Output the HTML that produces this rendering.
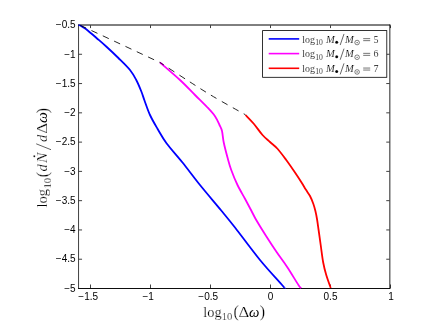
<!DOCTYPE html>
<html><head><meta charset="utf-8"><style>html,body{margin:0;padding:0;background:#fff}svg{display:block;will-change:transform}</style></head><body>
<svg width="432" height="324" viewBox="0 0 432 324">
<rect width="432" height="324" fill="#fff"/>
<path d="M78.55,24.5 V288.95" stroke="#000" stroke-width="0.75"/>
<path d="M389.85,24.5 V288.95" stroke="#000" stroke-width="0.87"/>
<path d="M78.17999999999999,25.0 H390.28000000000003" stroke="#000" stroke-width="1"/>
<path d="M78.17999999999999,288.5 H390.28000000000003" stroke="#000" stroke-width="0.95"/>
<path d="M90.5,288.1 v-3.6 M90.5,25.4 v2.7" stroke="#000" stroke-width="0.75"/>
<path d="M150.5,288.1 v-3.6 M150.5,25.4 v2.7" stroke="#000" stroke-width="0.75"/>
<path d="M210.5,288.1 v-3.6 M210.5,25.4 v2.7" stroke="#000" stroke-width="0.75"/>
<path d="M270.5,288.1 v-3.6 M270.5,25.4 v2.7" stroke="#000" stroke-width="0.75"/>
<path d="M330.5,288.1 v-3.6 M330.5,25.4 v2.7" stroke="#000" stroke-width="0.75"/>
<path d="M390.5,288.1 v-3.6 M390.5,25.4 v2.7" stroke="#000" stroke-width="0.75"/>
<path d="M78.85,54.28 h3.2 M389.45000000000005,54.28 h-3.2" stroke="#000" stroke-width="0.75"/>
<path d="M78.85,83.56 h3.2 M389.45000000000005,83.56 h-3.2" stroke="#000" stroke-width="0.75"/>
<path d="M78.85,112.83 h3.2 M389.45000000000005,112.83 h-3.2" stroke="#000" stroke-width="0.75"/>
<path d="M78.85,142.11 h3.2 M389.45000000000005,142.11 h-3.2" stroke="#000" stroke-width="0.75"/>
<path d="M78.85,171.39 h3.2 M389.45000000000005,171.39 h-3.2" stroke="#000" stroke-width="0.75"/>
<path d="M78.85,200.67 h3.2 M389.45000000000005,200.67 h-3.2" stroke="#000" stroke-width="0.75"/>
<path d="M78.85,229.94 h3.2 M389.45000000000005,229.94 h-3.2" stroke="#000" stroke-width="0.75"/>
<path d="M78.85,259.22 h3.2 M389.45000000000005,259.22 h-3.2" stroke="#000" stroke-width="0.75"/>
<clipPath id="cp"><rect x="78.14999999999999" y="24.6" width="312.1" height="264.3"/></clipPath>
<g clip-path="url(#cp)">
<path d="M78.50,24.50 C79.25,24.95 81.46,26.20 83.00,27.20 C84.54,28.20 85.50,28.70 87.75,30.50 C90.00,32.30 93.38,35.29 96.50,38.00 C99.62,40.71 102.85,43.42 106.50,46.75 C110.15,50.08 114.48,54.12 118.40,58.00 C122.32,61.88 127.03,66.33 130.00,70.00 C132.97,73.67 134.38,76.46 136.25,80.00 C138.12,83.54 139.88,87.83 141.25,91.25 C142.62,94.67 143.04,96.54 144.50,100.50 C145.96,104.46 147.83,110.29 150.00,115.00 C152.17,119.71 154.75,124.05 157.50,128.75 C160.25,133.45 162.33,137.57 166.50,143.20 C170.67,148.82 176.92,155.53 182.50,162.50 C188.08,169.47 193.54,177.00 200.00,185.00 C206.46,193.00 215.42,203.42 221.25,210.50 C227.08,217.58 228.54,219.25 235.00,227.50 C241.46,235.75 252.08,250.33 260.00,260.00 C267.92,269.67 278.46,280.83 282.50,285.50 C286.54,290.17 283.96,287.58 284.25,288.00" stroke="#0000ff" stroke-width="1.8" fill="none" stroke-linejoin="round"/>
<path d="M160.00,62.50 C163.33,65.42 174.17,74.58 180.00,80.00 C185.83,85.42 190.42,90.42 195.00,95.00 C199.58,99.58 204.17,103.96 207.50,107.50 C210.83,111.04 213.00,113.33 215.00,116.25 C217.00,119.17 218.33,122.54 219.50,125.00 C220.67,127.46 221.29,128.08 222.00,131.00 C222.71,133.92 222.83,138.08 223.75,142.50 C224.67,146.92 226.25,152.92 227.50,157.50 C228.75,162.08 229.58,165.42 231.25,170.00 C232.92,174.58 235.21,180.21 237.50,185.00 C239.79,189.79 242.71,194.50 245.00,198.75 C247.29,203.00 249.38,206.96 251.25,210.50 C253.12,214.04 253.75,215.71 256.25,220.00 C258.75,224.29 262.86,230.92 266.25,236.25 C269.64,241.58 273.06,246.79 276.60,252.00 C280.14,257.21 283.81,261.92 287.50,267.50 C291.19,273.08 296.46,282.08 298.75,285.50 C301.04,288.92 300.83,287.58 301.25,288.00" stroke="#ff00ff" stroke-width="1.8" fill="none" stroke-linejoin="round"/>
<path d="M245.50,115.00 C246.88,116.46 250.92,120.42 253.75,123.75 C256.58,127.08 259.79,131.96 262.50,135.00 C265.21,138.04 267.50,139.71 270.00,142.00 C272.50,144.29 274.79,145.75 277.50,148.75 C280.21,151.75 283.33,156.04 286.25,160.00 C289.17,163.96 292.43,168.72 295.00,172.50 C297.57,176.28 299.90,179.85 301.70,182.70 C303.50,185.55 304.42,187.38 305.80,189.60 C307.18,191.82 308.75,193.65 310.00,196.00 C311.25,198.35 312.40,201.20 313.30,203.70 C314.20,206.20 314.78,208.45 315.40,211.00 C316.02,213.55 316.47,215.83 317.00,219.00 C317.53,222.17 317.98,225.67 318.60,230.00 C319.22,234.33 319.93,239.58 320.70,245.00 C321.47,250.42 322.27,257.50 323.20,262.50 C324.12,267.50 324.99,270.75 326.25,275.00 C327.51,279.25 330.00,285.83 330.75,288.00" stroke="#ff0000" stroke-width="1.8" fill="none" stroke-linejoin="round"/>
<path d="M78.5,24.5 L160,62.5" stroke="#000" stroke-width="0.85" stroke-dasharray="6.6,5.9" stroke-dashoffset="10.7" fill="none"/>
<path d="M160.00,62.50 C165.00,65.75 181.08,76.30 190.00,82.00 C198.92,87.70 204.25,91.23 213.50,96.70 C222.75,102.17 240.17,111.78 245.50,114.80" stroke="#000" stroke-width="0.85" stroke-dasharray="6.6,5.9" stroke-dashoffset="1.9" fill="none"/>
</g>
<g font-family="Liberation Sans, sans-serif" font-size="10" fill="#000">
<text x="88.2" y="300.2" text-anchor="middle">−1.5</text>
<text x="148.2" y="300.2" text-anchor="middle">−1</text>
<text x="208.2" y="300.2" text-anchor="middle">−0.5</text>
<text x="270.5" y="300.2" text-anchor="middle">0</text>
<text x="330.5" y="300.2" text-anchor="middle">0.5</text>
<text x="391.0" y="300.2" text-anchor="middle">1</text>
<text x="75.6" y="28.25" text-anchor="end">−0.5</text>
<text x="75.6" y="57.53" text-anchor="end">−1</text>
<text x="75.6" y="86.81" text-anchor="end">−1.5</text>
<text x="75.6" y="116.08" text-anchor="end">−2</text>
<text x="75.6" y="145.36" text-anchor="end">−2.5</text>
<text x="75.6" y="174.64" text-anchor="end">−3</text>
<text x="75.6" y="203.92" text-anchor="end">−3.5</text>
<text x="75.6" y="233.19" text-anchor="end">−4</text>
<text x="75.6" y="262.47" text-anchor="end">−4.5</text>
<text x="75.6" y="291.75" text-anchor="end">−5</text>
</g>
<rect x="262.6" y="30.6" width="124.2" height="46.7" fill="#fff" stroke="#000" stroke-width="0.8"/>
<path d="M268.7,38.90 H299.2" stroke="#0000ff" stroke-width="1.6"/>
<g font-family="Liberation Serif, serif" font-size="10" fill="#000" stroke="#fff" stroke-width="0.14">
<text x="302.3" y="42.55" font-size="10.8" textLength="12.7" lengthAdjust="spacingAndGlyphs">log</text>
<text x="315.3" y="45.05" font-size="7.6">10</text>
<text x="325.9" y="42.55" font-style="italic" font-size="11.2" textLength="8.8" lengthAdjust="spacingAndGlyphs">M</text>
<circle cx="336.7" cy="42.15" r="1.5"/>
<path d="M340.2,45.05 L344,33.95" stroke="#000" stroke-width="0.6"/>
<text x="345.1" y="42.55" font-style="italic" font-size="11.2" textLength="8.8" lengthAdjust="spacingAndGlyphs">M</text>
<circle cx="357.1" cy="42.55" r="2.3" fill="none" stroke="#000" stroke-width="0.5"/><circle cx="357.1" cy="42.55" r="0.6"/>
<path d="M363.2,38.65 h7 M363.2,40.65 h7" stroke="#000" stroke-width="0.55"/>
<text x="373.6" y="42.55">5</text>
</g>
<path d="M268.7,53.60 H299.2" stroke="#ff00ff" stroke-width="1.6"/>
<g font-family="Liberation Serif, serif" font-size="10" fill="#000" stroke="#fff" stroke-width="0.14">
<text x="302.3" y="57.25" font-size="10.8" textLength="12.7" lengthAdjust="spacingAndGlyphs">log</text>
<text x="315.3" y="59.75" font-size="7.6">10</text>
<text x="325.9" y="57.25" font-style="italic" font-size="11.2" textLength="8.8" lengthAdjust="spacingAndGlyphs">M</text>
<circle cx="336.7" cy="56.85" r="1.5"/>
<path d="M340.2,59.75 L344,48.65" stroke="#000" stroke-width="0.6"/>
<text x="345.1" y="57.25" font-style="italic" font-size="11.2" textLength="8.8" lengthAdjust="spacingAndGlyphs">M</text>
<circle cx="357.1" cy="57.25" r="2.3" fill="none" stroke="#000" stroke-width="0.5"/><circle cx="357.1" cy="57.25" r="0.6"/>
<path d="M363.2,53.35 h7 M363.2,55.35 h7" stroke="#000" stroke-width="0.55"/>
<text x="373.6" y="57.25">6</text>
</g>
<path d="M268.7,68.30 H299.2" stroke="#ff0000" stroke-width="1.6"/>
<g font-family="Liberation Serif, serif" font-size="10" fill="#000" stroke="#fff" stroke-width="0.14">
<text x="302.3" y="71.95" font-size="10.8" textLength="12.7" lengthAdjust="spacingAndGlyphs">log</text>
<text x="315.3" y="74.45" font-size="7.6">10</text>
<text x="325.9" y="71.95" font-style="italic" font-size="11.2" textLength="8.8" lengthAdjust="spacingAndGlyphs">M</text>
<circle cx="336.7" cy="71.55" r="1.5"/>
<path d="M340.2,74.45 L344,63.35" stroke="#000" stroke-width="0.6"/>
<text x="345.1" y="71.95" font-style="italic" font-size="11.2" textLength="8.8" lengthAdjust="spacingAndGlyphs">M</text>
<circle cx="357.1" cy="71.95" r="2.3" fill="none" stroke="#000" stroke-width="0.5"/><circle cx="357.1" cy="71.95" r="0.6"/>
<path d="M363.2,68.05 h7 M363.2,70.05 h7" stroke="#000" stroke-width="0.55"/>
<text x="373.6" y="71.95">7</text>
</g>
<g font-family="Liberation Serif, serif" font-size="14.5" fill="#000" stroke="#fff" stroke-width="0.22">
<text x="203.2" y="316.9" textLength="18.4" lengthAdjust="spacingAndGlyphs">log</text>
<text x="221.8" y="320.2" font-size="10.6">10</text>
<text x="233.6" y="317.3" font-size="16">(</text>
<text x="238.4" y="316.9" textLength="10.8" lengthAdjust="spacingAndGlyphs">Δ</text>
<text x="249.0" y="316.9" font-style="italic" textLength="10.4" lengthAdjust="spacingAndGlyphs" stroke="none">ω</text>
<text x="259.8" y="317.3" font-size="16">)</text>
</g>
<g transform="translate(47.4,207.2) rotate(-90)" font-family="Liberation Serif, serif" font-size="14.5" fill="#000" stroke="#fff" stroke-width="0.22">
<text x="-0.3" y="0" textLength="18.4" lengthAdjust="spacingAndGlyphs">log</text>
<text x="18.6" y="3.3" font-size="10.6">10</text>
<text x="30" y="0.4" font-size="16">(</text>
<text x="35.6" y="0" font-style="italic">d</text>
<text x="44.2" y="0" font-style="italic" textLength="10.4" lengthAdjust="spacingAndGlyphs">N</text>
<circle cx="50.9" cy="-13.1" r="0.95"/>
<path d="M57.5,3.6 L63.4,-11.2" stroke="#000" stroke-width="0.62"/>
<text x="65.2" y="0" font-style="italic">d</text>
<text x="73.4" y="0" textLength="10.8" lengthAdjust="spacingAndGlyphs">Δ</text>
<text x="84.3" y="0" font-style="italic" textLength="10.9" lengthAdjust="spacingAndGlyphs" stroke="none">ω</text>
<text x="94" y="0.4" font-size="16">)</text>
</g>
</svg>
</body></html>
